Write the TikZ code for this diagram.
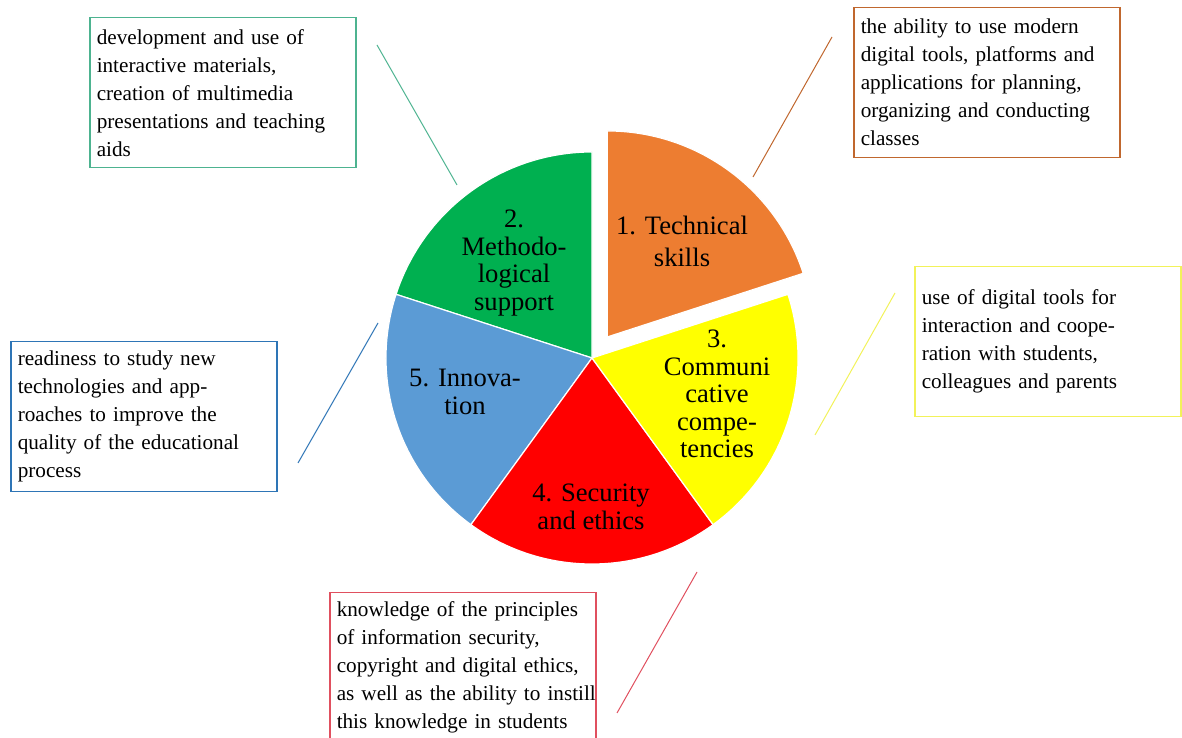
\documentclass[tikz,border=0pt]{standalone}
\usepackage{fontspec}
\setmainfont{Liberation Serif}
\definecolor{porg}{HTML}{ED7D31}
\definecolor{pgrn}{HTML}{00B050}
\definecolor{pblu}{HTML}{5B9BD5}
\definecolor{pred}{HTML}{FF0000}
\definecolor{pyel}{HTML}{FFFF00}
\definecolor{lorg}{HTML}{C0672E}
\definecolor{lgrn}{HTML}{4DB390}
\definecolor{lblu}{HTML}{2E75B6}
\definecolor{lyel}{HTML}{F2F25A}
\definecolor{lred}{HTML}{E0505F}
\tikzset{
    boxorg/.style={draw=lorg,line width=.75pt,anchor=north west,minimum width=133pt,minimum height=75pt,inner xsep=3.5pt,align=left,text width=126pt,font=\fontsize{10.6}{14}\selectfont},
    boxgrn/.style={draw=lgrn,line width=.75pt,anchor=north west,minimum width=133pt,minimum height=75pt,inner xsep=3.5pt,align=left,text width=126pt,font=\fontsize{10.6}{14}\selectfont},
    boxblu/.style={draw=lblu,line width=.75pt,anchor=north west,minimum width=133pt,minimum height=75pt,inner xsep=3.5pt,align=left,text width=126pt,font=\fontsize{10.6}{14}\selectfont},
    boxyel/.style={draw=lyel,line width=.75pt,anchor=north west,minimum width=133pt,minimum height=75pt,inner xsep=3.5pt,align=left,text width=126pt,font=\fontsize{10.6}{14}\selectfont},
    boxred/.style={draw=lred,line width=.75pt,anchor=north west,minimum width=133pt,minimum height=75pt,inner xsep=3.5pt,align=left,text width=126pt,font=\fontsize{10.6}{14}\selectfont},
    slctxt/.style={align=center,inner sep=0pt,font=\fontsize{13.3}{13.8}\selectfont}
}
\begin{document}
\begin{tikzpicture}[x=.5pt,y=.5pt]
        \useasboundingbox (0,0) rectangle (1182,738);
        \clip (0,0) rectangle (1182,738);
        %---
        \foreach \a/\c in {90/pgrn,162/pblu,234/pred,306/pyel} {
            \fill[color=\c,draw=white,line width=.6pt] (592,380) -- ++(\a:206) arc[start angle=\a,end angle=\a+72,radius=206] -- cycle;
        }
        \fill[color=porg,draw=white,line width=.6pt] ([shift={(54:26)}]592,380) -- ++(18:206) arc[start angle=18,end angle=90,radius=206] -- cycle;

        \node[slctxt,font=\fontsize{13.3}{16}\selectfont] (s-tech) at (682,497) {1. Technical\\skills};
        \node[slctxt] (s-meth) at (514,475) {2.\\Methodo-\\logical\\support};
        \node[slctxt] (s-comm) at (717,344) {3.\\Communi\\cative\\compe-\\tencies};
        \node[slctxt] (s-secu) at (591,231) {4. Security\\and ethics};
        \node[slctxt] (s-inno) at (465,346) {5. Innova-\\tion};

        %---
        \node[boxgrn] (b-meth) at (89,721) {development and use of\\interactive materials,\\creation of multimedia\\presentations and teaching\\aids};
        \node[boxorg] (b-tech) at (853,731) {the ability to use modern\\digital tools, platforms and\\applications for planning,\\organizing and conducting\\classes};
        \node[boxblu] (b-inno) at (10,397) {readiness to study new\\technologies and app-\\roaches to improve the\\quality of the educational\\process};
        \node[boxyel] (b-comm) at (914,472) {use of digital tools for\\interaction and coope-\\ration with students,\\colleagues and parents};
        \node[boxred] (b-secu) at (329,146) {knowledge of the principles\\of information security,\\copyright and digital ethics,\\\mbox{as well as the ability to instill}\\this knowledge in students};

        %---
        \coordinate (l-meth-a) at (377,693);
        \coordinate (l-meth-b) at (457,553);
        \coordinate (l-tech-a) at (832,701);
        \coordinate (l-tech-b) at (753,561);
        \coordinate (l-inno-a) at (378,415);
        \coordinate (l-inno-b) at (298,275);
        \coordinate (l-comm-a) at (895,445);
        \coordinate (l-comm-b) at (815,303);
        \coordinate (l-secu-a) at (697,166);
        \coordinate (l-secu-b) at (617,25);

        \begin{scope}[every path/.style={line width=.5pt}]
            \draw[color=lgrn] (l-meth-a) -- (l-meth-b);
            \draw[color=lorg] (l-tech-a) -- (l-tech-b);
            \draw[color=lblu] (l-inno-a) -- (l-inno-b);
            \draw[color=lyel] (l-comm-a) -- (l-comm-b);
            \draw[color=lred] (l-secu-a) -- (l-secu-b);
        \end{scope}
    \end{tikzpicture}
\end{document}
